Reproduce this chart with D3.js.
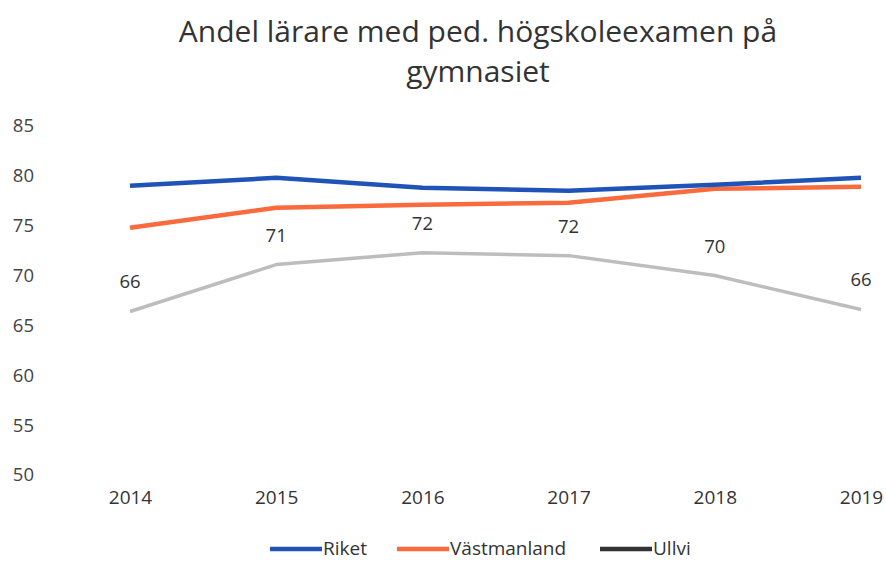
<!DOCTYPE html>
<html><head><meta charset="utf-8">
<script src="https://cdn.jsdelivr.net/npm/d3@7"></script>
<style>body{margin:0;background:#fff}svg{display:block}text{font-family:"Open Sans",sans-serif}</style>
</head><body>
<svg id="c" width="886" height="561"></svg>
<script>
const years = ["2014","2015","2016","2017","2018","2019"];
const riket = [79.0, 79.8, 78.8, 78.5, 79.1, 79.8];
const vastmanland = [74.8, 76.8, 77.1, 77.3, 78.7, 78.9];
const ullvi = [66.4, 71.1, 72.3, 72.0, 70.0, 66.6];
const ullviLabels = ["66","71","72","72","70","66"];
const yTicks = [50,55,60,65,70,75,80,85];
const titleLines = ["Andel lärare med ped. högskoleexamen på","gymnasiet"];

const FONT = "'Open Sans',sans-serif";
const svg = d3.select("#c");
const x = d3.scalePoint().domain(years).range([130, 861]);
const y = d3.scaleLinear().domain([50,85]).range([475,126]);

svg.append("g").selectAll("text").data(titleLines).join("text")
  .attr("x", 478).attr("y", (d,i)=>42+i*40).attr("text-anchor","middle")
  .attr("font-size", 30).attr("fill","#333").text(d=>d);

const yAxis = d3.axisLeft(y).tickValues(yTicks).tickSize(0).tickPadding(0);
const ga = svg.append("g").attr("transform","translate(34,0)").call(yAxis);
ga.select(".domain").remove();
ga.selectAll("text").attr("font-size",18.5).attr("fill","#444").style("font-family",FONT);

const xAxis = d3.axisBottom(x).tickSize(0).tickPadding(0);
const gx = svg.append("g").attr("transform","translate(0,490)").call(xAxis);
gx.select(".domain").remove();
gx.selectAll("text").attr("font-size",19).attr("fill","#333").style("font-family",FONT);

const line = d3.line().x((d,i)=>x(years[i])).y(d=>y(d));
const series = [
  {name:"Riket", data:riket, color:"#1f53b8", w:4.5, legend:"#1f53b8"},
  {name:"Västmanland", data:vastmanland, color:"#f96a3c", w:4.5, legend:"#f96a3c"},
  {name:"Ullvi", data:ullvi, color:"#bdbdbd", w:3.5, legend:"#333"}
];
[series[2], series[1], series[0]].forEach(s=>{
  svg.append("path").attr("d", line(s.data)).attr("fill","none")
    .attr("stroke", s.color).attr("stroke-width", s.w).attr("stroke-linejoin","round");
});

svg.append("g").selectAll("text").data(ullvi).join("text")
  .attr("x",(d,i)=>x(years[i])).attr("y",d=>y(d)-23)
  .attr("text-anchor","middle").attr("font-size",18.5).attr("fill","#333")
  .text((d,i)=>ullviLabels[i]);

const legX = [270, 397, 600];
const lg = svg.append("g");
series.forEach((s,i)=>{
  lg.append("line").attr("x1",legX[i]).attr("x2",legX[i]+52).attr("y1",549).attr("y2",549)
    .attr("stroke",s.legend).attr("stroke-width",4.5);
  lg.append("text").attr("x",legX[i]+53).attr("y",555).attr("font-size",19).attr("fill","#333").text(s.name);
});
</script>
</body></html>
